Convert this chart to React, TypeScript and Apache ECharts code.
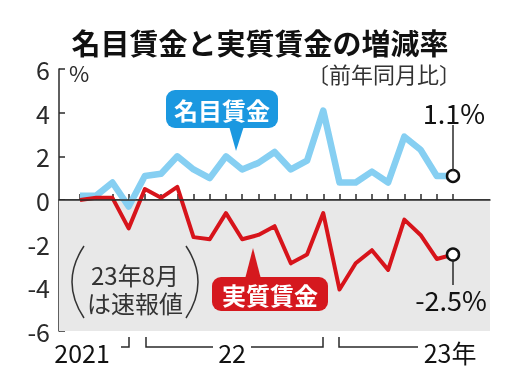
import { useEffect, useRef } from 'react';
import * as echarts from 'echarts';

const months = [
  '2021-09', '2021-10', '2021-11', '2021-12',
  '2022-01', '2022-02', '2022-03', '2022-04', '2022-05', '2022-06',
  '2022-07', '2022-08', '2022-09', '2022-10', '2022-11', '2022-12',
  '2023-01', '2023-02', '2023-03', '2023-04', '2023-05', '2023-06', '2023-07', '2023-08',
];
const nominalWage = [0.2, 0.2, 0.8, -0.3, 1.1, 1.2, 2.0, 1.4, 1.0, 2.0, 1.4, 1.7, 2.2, 1.4, 1.8, 4.1, 0.8, 0.8, 1.3, 0.8, 2.9, 2.3, 1.1, 1.1];
const realWage = [0.0, 0.1, 0.1, -1.3, 0.5, 0.1, 0.6, -1.7, -1.8, -0.6, -1.8, -1.6, -1.2, -2.9, -2.5, -0.6, -4.1, -2.9, -2.3, -3.2, -0.9, -1.6, -2.7, -2.5];
const yMin = -6;
const yMax = 6;
const yInterval = 2;
const yearLabels = ['2021', '22', '23年'];
const titleText = '名目賃金と実質賃金の増減率';
const subtitleText = '〔前年同月比〕';
const nominalName = '名目賃金';
const realName = '実質賃金';
const nominalLast = '1.1%';
const realLast = '-2.5%';
const noteLines = ['23年8月', 'は速報値'];

export default function App() {
  const ref = useRef<HTMLDivElement>(null);
  useEffect(() => {
    const chart = echarts.init(ref.current!, null, { renderer: 'svg' });
    const font = '"Noto Sans CJK JP", "Noto Sans", sans-serif';
    const ink = '#2a2a2a';
    const last = months.length - 1;
    const txt = (text: string, x: number, y: number, size: number, opts: any = {}) => ({
      type: 'text',
      x,
      y,
      z: 100,
      silent: true,
      style: {
        text,
        fontSize: size,
        fontFamily: font,
        fontWeight: opts.bold ? 'bold' : 'normal',
        fill: opts.fill || ink,
        lineHeight: opts.lineHeight,
        textAlign: opts.align || 'center',
        align: opts.align || 'center',
        textVerticalAlign: 'middle',
        verticalAlign: 'middle',
      },
    });
    const pl = (points: number[][]) => ({
      type: 'polyline',
      z: 100,
      silent: true,
      shape: { points },
      style: { stroke: ink, lineWidth: 1.5, fill: null },
    });
    chart.setOption({
      animation: false,
      grid: [
        { left: 59, right: 30, top: 69, bottom: 39 },
        { left: 80, right: 67, top: 69, bottom: 39 },
      ],
      xAxis: [
        {
          gridIndex: 0, type: 'value', min: 0, max: 1,
          axisLine: { show: true, lineStyle: { color: ink, width: 1.5 } },
          axisTick: { show: false }, axisLabel: { show: false }, splitLine: { show: false },
        },
        {
          gridIndex: 1, type: 'category', data: months, boundaryGap: false,
          axisLine: { show: false },
          axisTick: { show: true, inside: true, length: 6, interval: 0, lineStyle: { color: ink, width: 1.5 } },
          axisLabel: { show: false }, splitLine: { show: false },
        },
      ],
      yAxis: [
        {
          gridIndex: 0, type: 'value', min: yMin, max: yMax, interval: yInterval,
          axisLine: { show: true, lineStyle: { color: ink, width: 1.5 } },
          axisTick: { show: true, inside: true, length: 6, lineStyle: { color: ink, width: 1.5 } },
          axisLabel: { fontSize: 25, color: ink, fontFamily: font, margin: 9 },
          splitLine: { show: false },
        },
        { gridIndex: 1, type: 'value', min: yMin, max: yMax, interval: yInterval, show: false },
      ],
      series: [
        {
          type: 'line', xAxisIndex: 0, yAxisIndex: 0, data: [[0, 0]], symbol: 'none', silent: true, z: 1,
          lineStyle: { opacity: 0 },
          markArea: { silent: true, itemStyle: { color: '#e8e8e8' }, data: [[{ yAxis: 0 }, { yAxis: yMin }]] },
          markLine: {
            silent: true, symbol: 'none', label: { show: false },
            lineStyle: { color: ink, width: 1.5, type: 'solid' }, data: [{ yAxis: 0 }],
          },
        },
        {
          type: 'line', name: nominalName, xAxisIndex: 1, yAxisIndex: 1, data: nominalWage, symbol: 'none', z: 3,
          lineStyle: { color: '#86cff2', width: 6.5, join: 'round' },
          markPoint: {
            silent: true, symbol: 'circle', symbolSize: 12, label: { show: false },
            itemStyle: { color: '#fff', borderColor: '#111', borderWidth: 2.5 },
            data: [{ coord: [months[last], nominalWage[last]] }],
          },
        },
        {
          type: 'line', name: realName, xAxisIndex: 1, yAxisIndex: 1, data: realWage, symbol: 'none', z: 4,
          lineStyle: { color: '#d7141b', width: 4, join: 'round' },
          markPoint: {
            silent: true, symbol: 'circle', symbolSize: 12, label: { show: false },
            itemStyle: { color: '#fff', borderColor: '#111', borderWidth: 2.5 },
            data: [{ coord: [months[last], realWage[last]] }],
          },
        },
      ],
      graphic: [
        txt(titleText, 260, 42, 29, { bold: true, fill: '#111' }),
        txt(subtitleText, 384, 73, 22, { fill: '#333' }),
        txt('%', 69, 72, 22, { align: 'left' }),
        { type: 'rect', z: 100, silent: true, shape: { x: 166, y: 90, width: 112, height: 38, r: 9 }, style: { fill: '#1b98e0' } },
        { type: 'polygon', z: 100, silent: true, shape: { points: [[229, 126], [244, 126], [236, 151]] }, style: { fill: '#1b98e0' } },
        txt(nominalName, 222, 109, 24, { bold: true, fill: '#fff' }),
        { type: 'rect', z: 100, silent: true, shape: { x: 212, y: 277, width: 116, height: 34, r: 9 }, style: { fill: '#d5181e' } },
        { type: 'polygon', z: 100, silent: true, shape: { points: [[245, 279], [261, 279], [253, 248]] }, style: { fill: '#d5181e' } },
        txt(realName, 270, 294, 24, { bold: true, fill: '#fff' }),
        txt(nominalLast, 454, 112, 27, { fill: '#111' }),
        { type: 'line', z: 100, silent: true, shape: { x1: 453, y1: 125, x2: 453, y2: 171 }, style: { stroke: ink, lineWidth: 1.5 } },
        txt(realLast, 451, 299, 27, { fill: '#111' }),
        { type: 'line', z: 100, silent: true, shape: { x1: 453, y1: 259, x2: 453, y2: 285 }, style: { stroke: ink, lineWidth: 1.5 } },
        txt(noteLines.join('\n'), 135, 288, 24, { fill: '#333', lineHeight: 28 }),
        { type: 'bezierCurve', z: 100, silent: true, shape: { x1: 84, y1: 246, cpx1: 60, cpy1: 282, x2: 84, y2: 318 }, style: { stroke: '#333', lineWidth: 1.5, fill: null } },
        { type: 'bezierCurve', z: 100, silent: true, shape: { x1: 186, y1: 246, cpx1: 210, cpy1: 282, x2: 186, y2: 318 }, style: { stroke: '#333', lineWidth: 1.5, fill: null } },
        txt(yearLabels[0], 82, 352, 25, { fill: '#111' }),
        txt(yearLabels[1], 232, 352, 25, { fill: '#111' }),
        txt(yearLabels[2], 450, 352, 25, { fill: '#111' }),
        pl([[121, 347], [129, 347], [129, 337]]),
        pl([[146, 337], [146, 347], [213, 347]]),
        pl([[251, 347], [323, 347], [323, 337]]),
        pl([[339, 337], [339, 347], [418, 347]]),
      ],
    });
    return () => chart.dispose();
  }, []);
  return <div ref={ref} style={{ position: 'fixed', left: 0, top: 0, width: 520, height: 370 }} />;
}
